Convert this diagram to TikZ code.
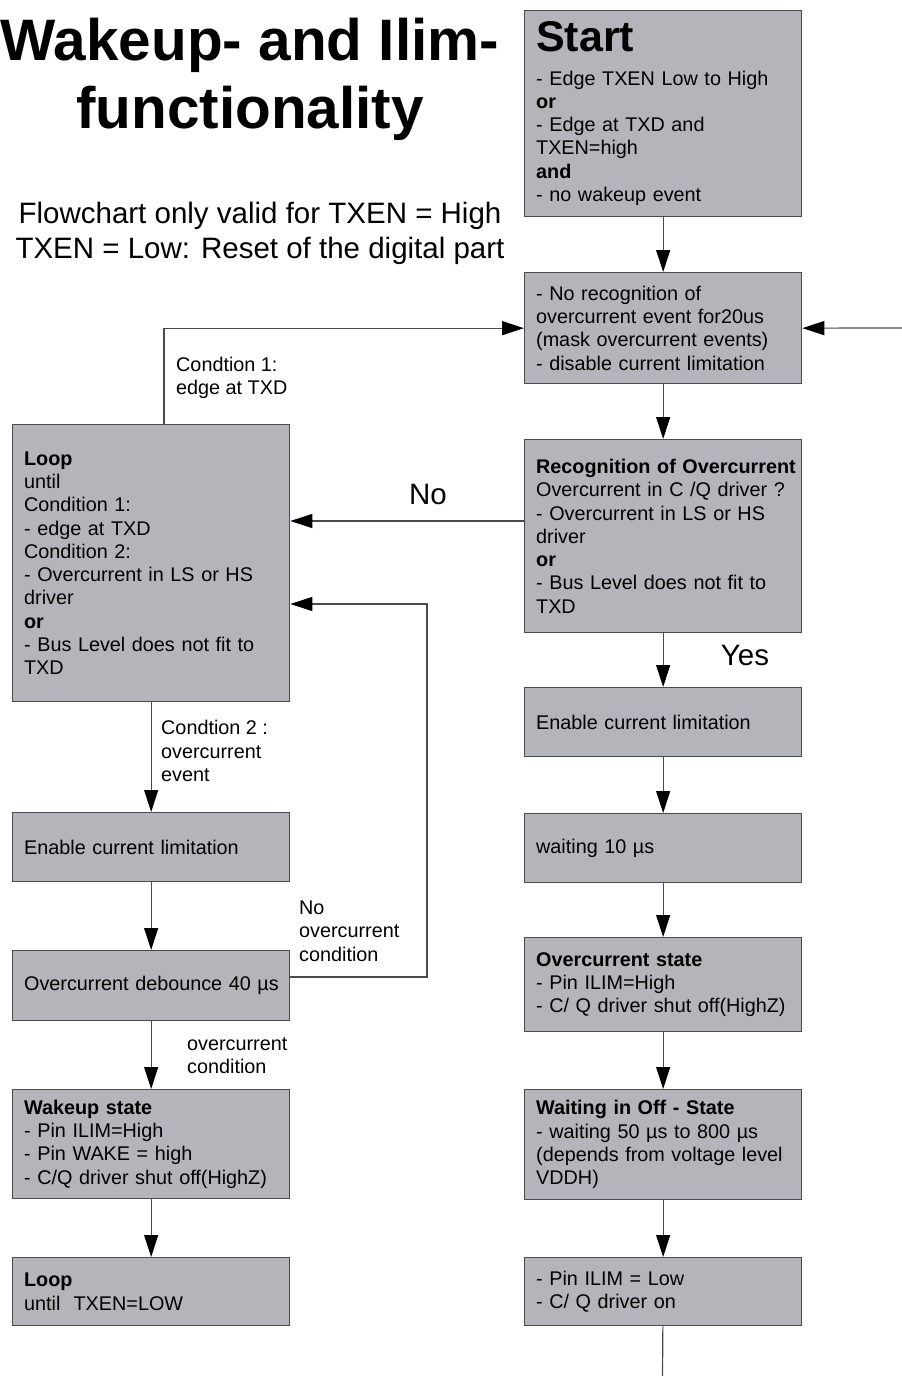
\documentclass[tikz,border=0pt]{standalone}
\usepackage{fontspec}
\setmainfont{Liberation Sans}
\usetikzlibrary{arrows.meta}
\usetikzlibrary{calc}

\definecolor{boxgray}{RGB}{180,181,186}
\definecolor{linegray}{RGB}{75,75,75}

\newcommand{\boxfont}{\fontsize{19.8}{23.3}\selectfont}
\newcommand{\bigfont}{\fontsize{29.5}{35}\selectfont}
\newcommand{\titlefont}{\fontsize{58.5}{68}\selectfont\bfseries}
\newcommand{\startfont}{\fontsize{43}{46}\selectfont\bfseries}

\begin{document}
\begin{tikzpicture}[x=1pt,y=-1pt,blk/.style={draw=linegray, fill=boxgray, line width=1.3pt, anchor=north west, align=left, text width=254pt, inner xsep=11.5pt, inner ysep=0pt, font=\boxfont}]
    \tikzset{flow/.style={draw=linegray, line width=1.2pt, -{Triangle[length=22pt, width=14pt, black]}}}
    \tikzset{wire/.style={draw=linegray, line width=1.2pt}}
    \tikzset{lbl/.style={anchor=west, align=left, inner sep=0pt, font=\boxfont}}
    \tikzset{big/.style={inner sep=0pt, font=\bigfont}}
    \useasboundingbox (0,0) rectangle (902,1376);

    % heading
    \node[font=\titlefont, align=center] (title) at (250,79) {Wakeup- and Ilim-\\functionality};
    \node[font=\bigfont, align=center] (note) at (260,233) {Flowchart only valid for TXEN = High\\TXEN = Low: Reset of the digital part};

    % right column
    \node[blk, minimum height=206pt] (start) at (524,10) {{\startfont Start}\\[10pt]- Edge TXEN Low to High\\\textbf{or}\\- Edge at TXD and\\TXEN=high\\\textbf{and}\\- no wakeup event};
    \node[blk, minimum height=111pt] (norec) at (524,272) {- No recognition of\\overcurrent event for20us\\(mask overcurrent events)\\- disable current limitation};
    \node[blk, minimum height=193pt] (recog) at (524,439) {\textbf{\mbox{Recognition of Overcurrent}}\\Overcurrent in C /Q driver ?\\- Overcurrent in LS or HS\\driver\\\textbf{or}\\- Bus Level does not fit to\\TXD};
    \node[blk, minimum height=69pt] (enR) at (524,687) {Enable current limitation};
    \node[blk, minimum height=69pt] (wait) at (524,813) {waiting 10 µs};
    \node[blk, minimum height=94pt] (ocstate) at (524,937) {\textbf{Overcurrent state}\\- Pin ILIM=High\\- C/ Q driver shut off(HighZ)};
    \node[blk, minimum height=110pt] (offstate) at (524,1089) {\textbf{Waiting in Off - State}\\- waiting 50 µs to 800 µs\\(depends from voltage level\\VDDH)};
    \node[blk, minimum height=68pt] (pinlow) at (524,1257) {- Pin ILIM = Low\\- C/ Q driver on};

    % left column
    \node[blk, minimum height=277pt] (loopA) at (12,424) {\textbf{Loop}\\until\\Condition 1:\\- edge at TXD\\Condition 2:\\- Overcurrent in LS or HS\\driver\\\textbf{or}\\- Bus Level does not fit to\\TXD};
    \node[blk, minimum height=69pt] (enL) at (12,812) {Enable current limitation};
    \node[blk, minimum height=70pt] (deb) at (12,950) {\mbox{Overcurrent debounce 40 µs}};
    \node[blk, minimum height=109pt] (wake) at (12,1089) {\textbf{Wakeup state}\\- Pin ILIM=High\\- Pin WAKE = high\\- C/Q driver shut off(HighZ)};
    \node[blk, minimum height=68pt] (loopB) at (12,1257) {\textbf{Loop}\\until\ \ TXEN=LOW};

    \coordinate (back) at (902,328);
    \coordinate (down) at (662.5,1376);
    \coordinate (c1) at (164,424);
    \coordinate (ret) at (427,604);

    \draw[flow] (start) -- (norec);
    \draw[flow] (back) -- (norec.east);
    \draw[flow] (norec) -- (recog);
    \draw[flow] (recog) -- (enR);
    \draw[flow] (enR) -- (wait);
    \draw[flow] (wait) -- (ocstate);
    \draw[flow] (ocstate) -- (offstate);
    \draw[flow] (offstate) -- (pinlow);
    \draw[wire] (pinlow) -- (down);

    \draw[flow] (recog.west |- 0,521) -- (loopA.east |- 0,521);
    \draw[flow] (c1) |- (norec.west);
    \draw[flow] (loopA) -- (enL);
    \draw[flow] (enL) -- (deb);
    \draw[flow] (deb.east |- 0,977) -| (ret) -- (loopA.east |- ret);
    \draw[flow] (deb) -- (wake);
    \draw[flow] (wake) -- (loopB);

    % labels
    \node[big] (no) at (428,494) {No};
    \node[big] (yes) at (745,655) {Yes};
    \node[lbl] (cond1) at (176,378) {Condtion 1:\\edge at TXD};
    \node[lbl] (cond2) at (161,751) {Condtion 2 :\\overcurrent\\event};
    \node[lbl] (nooc) at (299,931) {No\\overcurrent\\condition};
    \node[lbl] (oc) at (187,1056) {overcurrent\\condition};
\end{tikzpicture}
\end{document}
